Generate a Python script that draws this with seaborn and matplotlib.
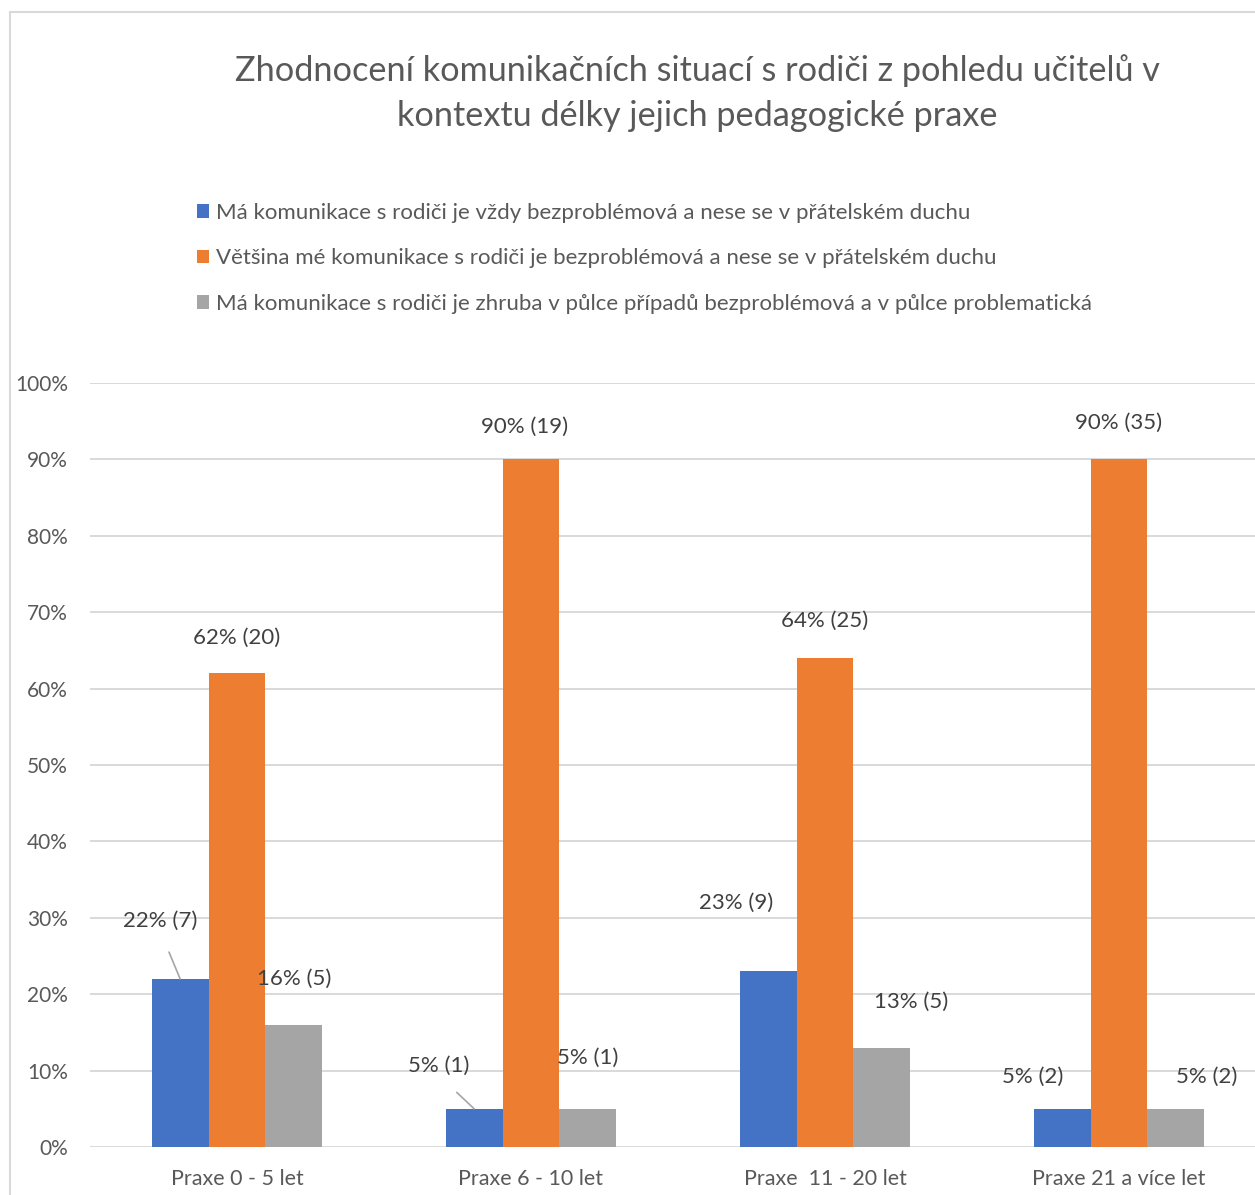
import pandas as pd
import matplotlib.pyplot as plt
import seaborn as sns
from matplotlib.patches import Rectangle
from matplotlib.ticker import PercentFormatter

# === Data ===
categories = ["Praxe 0 - 5 let", "Praxe 6 - 10 let", "Praxe  11 - 20 let", "Praxe 21 a více let"]
series_names = [
    "Má komunikace s rodiči je vždy bezproblémová a nese se v přátelském duchu",
    "Většina mé komunikace s rodiči je bezproblémová a nese se v přátelském duchu",
    "Má komunikace s rodiči je zhruba v půlce případů bezproblémová a v půlce problematická",
]
always_ok = [22, 5, 23, 5]
mostly_ok = [62, 90, 64, 90]
half_half = [16, 5, 13, 5]
always_ok_n = [7, 1, 9, 2]
mostly_ok_n = [20, 19, 25, 35]
half_half_n = [5, 1, 5, 2]
colors = ["#4472c4", "#ed7d31", "#a5a5a5"]

title = "Zhodnocení komunikačních situací s rodiči z pohledu učitelů v\nkontextu délky jejich pedagogické praxe"

# label offsets in pixels (dx, dy) from the bar top, plus leader line flag
label_offsets = [
    [(-20, 58, True), (-35, 43, True), (-32, 68, False), (-29, 32, False)],
    [(0, 35, False), (-6, 33, False), (0, 37, False), (0, 37, False)],
    [(0, 46, False), (0, 51, False), (29, 46, False), (31, 32, False)],
]

values = [always_ok, mostly_ok, half_half]
counts = [always_ok_n, mostly_ok_n, half_half_n]

rows = []
for name, vals in zip(series_names, values):
    for cat, v in zip(categories, vals):
        rows.append({"cat": cat, "series": name, "value": v})
df = pd.DataFrame(rows)

# === Figure ===
sns.set_style("white")
plt.rcParams["font.family"] = ["Lato", "DejaVu Sans"]
text_color = "#595959"

W, H = 1255, 1195
fig = plt.figure(figsize=(W / 100, H / 100), dpi=100)
ax = fig.add_axes([90 / W, 48 / H, 1176 / W, 764 / H])

group_width = 0.58
sns.barplot(data=df, x="cat", y="value", hue="series", palette=colors,
            saturation=1, width=group_width, gap=0, ax=ax, legend=True,
            edgecolor="none", linewidth=0)

ax.set_xlim(-0.5, 3.5)
ax.set_ylim(0, 100)
ax.set_yticks(range(0, 101, 10))
ax.yaxis.set_major_formatter(PercentFormatter(decimals=0))
ax.grid(axis="y", color="#d9d9d9", linewidth=1.4)
ax.set_axisbelow(True)
for s in ax.spines.values():
    s.set_visible(False)
ax.set_xlabel("")
ax.set_ylabel("")
ax.tick_params(axis="y", length=0, labelsize=15, labelcolor=text_color, pad=16)
ax.tick_params(axis="x", length=0, labelsize=15.5, labelcolor=text_color, pad=16)

# data labels
bw = group_width / 3
for i in range(3):
    for j in range(4):
        v = values[i][j]
        x = j + (i - 1) * bw
        dx, dy, leader = label_offsets[i][j]
        arrow = None
        if leader:
            arrow = dict(arrowstyle="-", color="#a6a6a6", lw=1.2,
                         relpos=(0.5, 0), shrinkA=14, shrinkB=0)
        ax.annotate(f"{v}% ({counts[i][j]})", xy=(x, v), xytext=(dx, dy),
                    textcoords="offset pixels", ha="center", va="center",
                    fontsize=16, color="#404040", arrowprops=arrow,
                    annotation_clip=False)

# legend
handles, labels = ax.get_legend_handles_labels()
ax.legend(handles, labels, loc="upper left",
          bbox_to_anchor=(197 / W, 1 - 203 / H), bbox_transform=fig.transFigure,
          frameon=False, fontsize=16, labelcolor=text_color,
          handlelength=0.55, handleheight=0.55, handletextpad=0.3,
          labelspacing=1.14, borderaxespad=0, borderpad=0)

# title
fig.text(697 / W, 1 - 93 / H, title, ha="center", va="center",
         fontsize=24.7, color=text_color, linespacing=1.52)

# chart border
fig.patches.append(Rectangle((10 / W, -0.1), 1.2, 1 - 12 / H + 0.1,
                             transform=fig.transFigure, fill=False,
                             edgecolor="#d9d9d9", linewidth=1.5, zorder=-1))

fig.savefig("out.png", dpi=100)
